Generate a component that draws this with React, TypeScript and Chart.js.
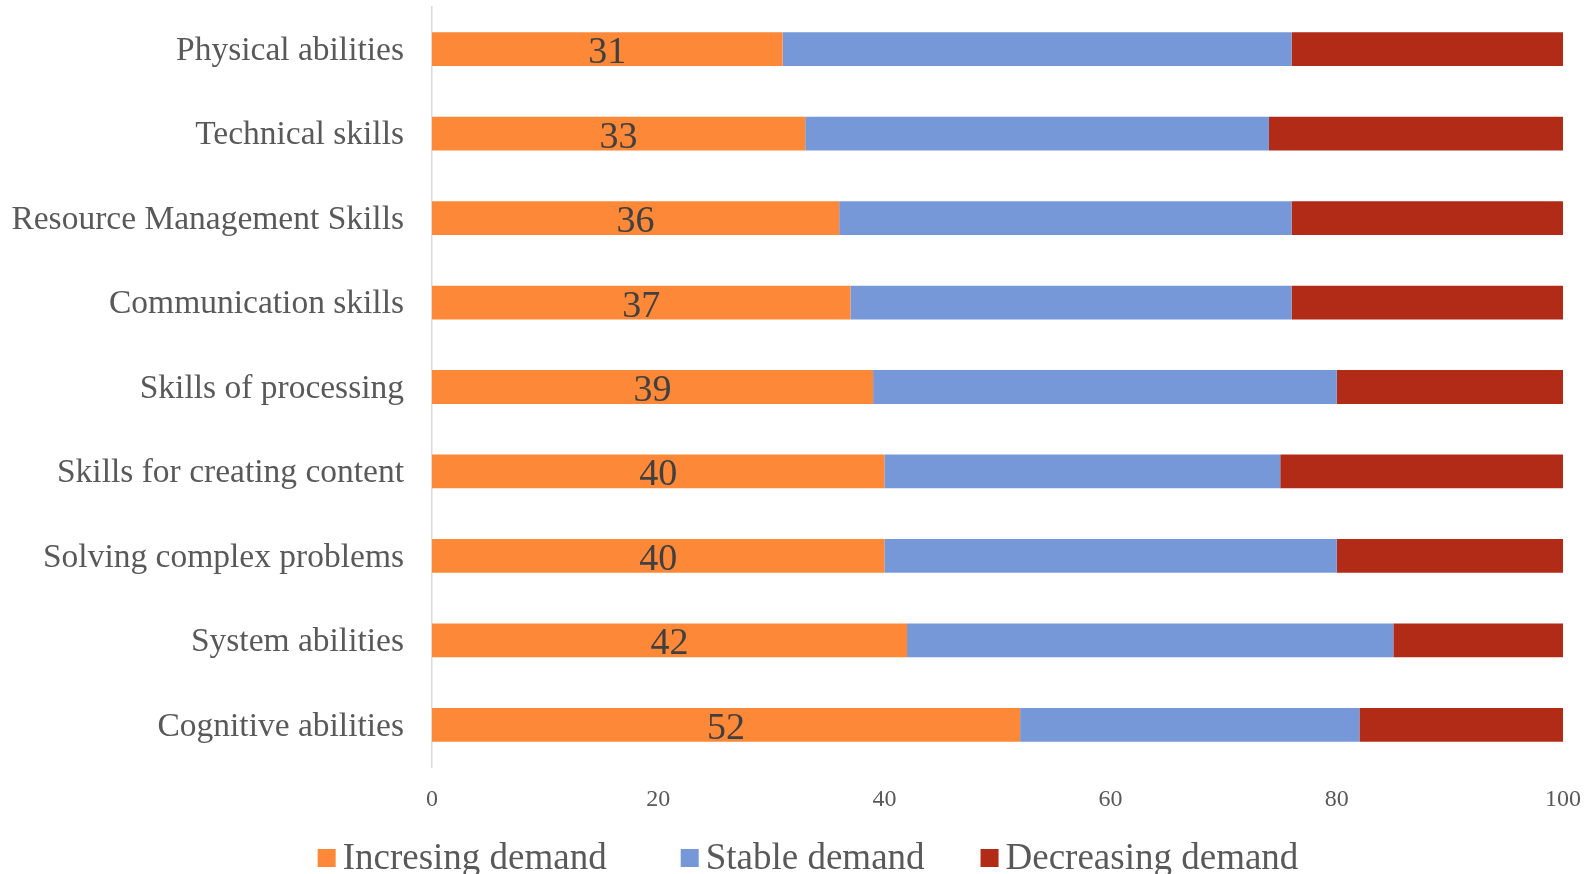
import React, { useEffect, useRef } from "react";
import { Chart, registerables } from "chart.js";

Chart.register(...registerables);

const categories = [
  "Physical abilities",
  "Technical skills",
  "Resource Management Skills",
  "Communication skills",
  "Skills of processing",
  "Skills for creating content",
  "Solving complex problems",
  "System abilities",
  "Cognitive abilities",
];

const increasingDemand = [31, 33, 36, 37, 39, 40, 40, 42, 52];
const stableDemand = [45, 41, 40, 39, 41, 35, 40, 43, 30];
const decreasingDemand = [24, 26, 24, 24, 20, 25, 20, 15, 18];

const seriesNames = ["Incresing demand", "Stable demand", "Decreasing demand"];
const seriesColors = ["#FD8837", "#7698D8", "#B22B17"];

const xTicks = [0, 20, 40, 60, 80, 100];

const FONT = "'Liberation Serif', 'Times New Roman', serif";
const TEXT_GRAY = "#595959";

// Value labels centred inside the first series' bars
const valueLabels = {
  id: "valueLabels",
  afterDatasetsDraw(chart: any) {
    const ctx = chart.ctx;
    const meta = chart.getDatasetMeta(0);
    const data = chart.data.datasets[0].data as number[];
    ctx.save();
    ctx.font = `38px ${FONT}`;
    ctx.fillStyle = "#404040";
    ctx.textAlign = "center";
    ctx.textBaseline = "middle";
    meta.data.forEach((bar: any, i: number) => {
      const cx = (bar.x + bar.base) / 2;
      ctx.fillText(String(data[i]), cx, bar.y + 4);
    });
    ctx.restore();
  },
};

// Legend row along the bottom edge
const bottomLegend = {
  id: "bottomLegend",
  afterDraw(chart: any) {
    const ctx = chart.ctx;
    const box = 18;
    const gap = 7;
    const spacing = [74, 56];
    const cy = 858;
    ctx.save();
    ctx.font = `37px ${FONT}`;
    ctx.textBaseline = "middle";
    ctx.textAlign = "left";
    const items = chart.data.datasets.map((ds: any) => ({
      label: ds.label as string,
      color: ds.backgroundColor as string,
      w: ctx.measureText(ds.label).width,
    }));
    const total =
      items.reduce((s: number, it: any) => s + box + gap + it.w, 0) +
      spacing.reduce((s, v) => s + v, 0);
    let x = (chart.width - total) / 2 + 12;
    items.forEach((it: any, i: number) => {
      ctx.fillStyle = it.color;
      ctx.fillRect(x, cy - box / 2, box, box);
      ctx.fillStyle = TEXT_GRAY;
      ctx.fillText(it.label, x + box + gap, cy + 1);
      x += box + gap + it.w + (spacing[i] || 0);
    });
    ctx.restore();
  },
};

export default function App() {
  const canvasRef = useRef<HTMLCanvasElement | null>(null);

  useEffect(() => {
    document.body.style.margin = "0";
    const canvas = canvasRef.current;
    if (!canvas) return;
    const values = [increasingDemand, stableDemand, decreasingDemand];
    const chart = new Chart(canvas, {
      type: "bar",
      data: {
        labels: categories,
        datasets: seriesNames.map((name, i) => ({
          label: name,
          data: values[i],
          backgroundColor: seriesColors[i],
          borderWidth: 0,
          barPercentage: 0.4,
          categoryPercentage: 1,
        })),
      },
      options: {
        indexAxis: "y",
        responsive: false,
        animation: false,
        devicePixelRatio: 1,
        layout: { padding: { top: 7, right: 29, left: 0, bottom: 0 } },
        plugins: {
          legend: { display: false },
          tooltip: { enabled: false },
        },
        scales: {
          x: {
            stacked: true,
            min: 0,
            max: 100,
            afterBuildTicks: (scale: any) => {
              scale.ticks = xTicks.map((v) => ({ value: v }));
            },
            afterFit: (scale: any) => {
              scale.height = 874 - 767;
              scale.paddingLeft = 0;
              scale.paddingRight = 0;
            },
            grid: { display: false, drawTicks: false },
            border: { display: false },
            ticks: {
              padding: 18,
              color: TEXT_GRAY,
              font: { family: FONT, size: 24 },
            },
          },
          y: {
            stacked: true,
            afterFit: (scale: any) => {
              scale.width = 432;
              scale.paddingTop = 0;
              scale.paddingBottom = 0;
            },
            grid: { display: false, drawTicks: false },
            border: { display: true, color: "#D9D9D9", width: 1.5 },
            ticks: {
              padding: 28,
              labelOffset: 2,
              color: TEXT_GRAY,
              font: { family: FONT, size: 33.5 },
            },
          },
        },
      },
      plugins: [valueLabels, bottomLegend],
    });
    return () => chart.destroy();
  }, []);

  return (
    <div style={{ width: 1592, height: 874, position: "relative" }}>
      <canvas ref={canvasRef} width={1592} height={874} />
    </div>
  );
}
